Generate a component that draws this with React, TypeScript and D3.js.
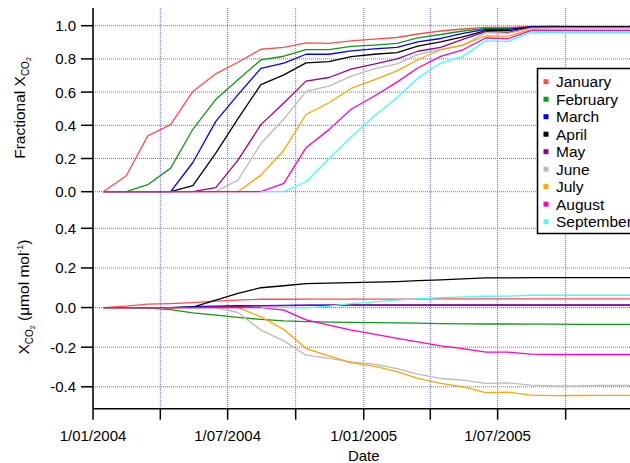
import React from "react";
import * as d3 from "d3";

const monthDates = [
  "2004-01-15", "2004-02-15", "2004-03-15", "2004-04-15", "2004-05-15", "2004-06-15",
  "2004-07-15", "2004-08-15", "2004-09-15", "2004-10-15", "2004-11-15", "2004-12-15",
  "2005-01-15", "2005-02-15", "2005-03-15", "2005-04-15", "2005-05-15", "2005-06-15",
  "2005-07-15", "2005-08-15", "2005-09-15", "2005-10-15", "2005-11-15", "2005-12-15",
  "2006-01-15",
];

const seriesNames = ["January", "February", "March", "April", "May", "June", "July", "August", "September"];
const seriesColors = ["#ff4d4d", "#119911", "#0000ff", "#000000", "#990088", "#bbbbbb", "#ffa500", "#ff00cc", "#44ffff"];

const N = null;
const fracJan = [0, 0.096, 0.336, 0.404, 0.604, 0.71, 0.78, 0.858, 0.87, 0.896, 0.894, 0.908, 0.919, 0.929, 0.95, 0.968, 0.98, 0.99, 0.99, 0.994, 0.994, 0.993, 0.993, 0.993, 0.993];
const fracFeb = [0, 0, 0.042, 0.142, 0.376, 0.556, 0.675, 0.794, 0.816, 0.856, 0.856, 0.876, 0.883, 0.893, 0.927, 0.947, 0.968, 0.984, 0.984, 0.992, 0.992, 0.99, 0.99, 0.99, 0.99];
const fracMar = [0, 0, 0, 0, 0.176, 0.424, 0.585, 0.743, 0.774, 0.828, 0.828, 0.848, 0.86, 0.87, 0.903, 0.923, 0.954, 0.978, 0.978, 0.994, 0.996, 0.995, 0.995, 0.995, 0.995];
const fracApr = [0, 0, 0, 0, 0.036, 0.232, 0.44, 0.645, 0.704, 0.776, 0.784, 0.814, 0.828, 0.838, 0.877, 0.903, 0.933, 0.97, 0.97, 0.992, 0.994, 0.994, 0.994, 0.994, 0.994];
const fracMay = [0, 0, 0, 0, 0, 0.024, 0.19, 0.404, 0.534, 0.666, 0.688, 0.738, 0.768, 0.8, 0.846, 0.87, 0.917, 0.964, 0.96, 0.988, 0.99, 0.99, 0.99, 0.99, 0.99];
const fracJun = [0, 0, 0, 0, 0, 0, 0.07, 0.29, 0.438, 0.604, 0.636, 0.696, 0.74, 0.77, 0.826, 0.857, 0.88, 0.958, 0.954, 0.984, 0.985, 0.985, 0.985, 0.985, 0.985];
const fracJul = [0, 0, 0, 0, 0, 0, 0, 0.1, 0.25, 0.465, 0.536, 0.622, 0.674, 0.728, 0.795, 0.855, 0.885, 0.938, 0.937, 0.977, 0.976, 0.975, 0.975, 0.975, 0.975];
const fracAug = [0, 0, 0, 0, 0, 0, 0, 0, 0.05, 0.265, 0.374, 0.497, 0.575, 0.66, 0.745, 0.815, 0.855, 0.926, 0.922, 0.97, 0.97, 0.97, 0.97, 0.97, 0.97];
const fracSep = [N, N, N, N, N, N, N, 0, 0, 0.06, 0.198, 0.33, 0.455, 0.567, 0.684, 0.775, 0.815, 0.909, 0.906, 0.96, 0.962, 0.96, 0.96, 0.96, 0.96];

const diffJan = [0, 0.007, 0.017, 0.02, 0.025, 0.032, 0.037, 0.042, 0.042, 0.043, 0.043, 0.043, 0.043, 0.043, 0.043, 0.044, 0.044, 0.044, 0.044, 0.044, 0.044, 0.044, 0.044, 0.044, 0.044];
const diffFeb = [0, 0, -0.003, -0.01, -0.027, -0.038, -0.05, -0.06, -0.067, -0.071, -0.074, -0.075, -0.076, -0.077, -0.079, -0.081, -0.082, -0.083, -0.083, -0.084, -0.084, -0.085, -0.085, -0.085, -0.085];
const diffMar = [0, 0, 0, 0, 0.004, 0.007, 0.009, 0.01, 0.011, 0.012, 0.012, 0.012, 0.012, 0.012, 0.012, 0.012, 0.012, 0.012, 0.012, 0.012, 0.012, 0.012, 0.012, 0.012, 0.012];
const diffApr = [0, 0, 0, 0, 0.002, 0.037, 0.072, 0.1, 0.11, 0.121, 0.123, 0.126, 0.128, 0.131, 0.136, 0.14, 0.145, 0.15, 0.15, 0.151, 0.151, 0.151, 0.151, 0.151, 0.151];
const diffMay = [0, 0, 0, 0, 0, 0.003, 0.006, 0.009, 0.01, 0.011, 0.012, 0.013, 0.013, 0.013, 0.013, 0.013, 0.013, 0.013, 0.013, 0.013, 0.013, 0.013, 0.013, 0.013, 0.013];
const diffJun = [0, 0, 0, 0, 0, 0, -0.025, -0.114, -0.168, -0.24, -0.257, -0.274, -0.286, -0.308, -0.336, -0.358, -0.366, -0.383, -0.38, -0.392, -0.395, -0.395, -0.393, -0.393, -0.393];
const diffJul = [0, 0, 0, 0, 0, 0, 0, -0.047, -0.111, -0.207, -0.244, -0.279, -0.296, -0.324, -0.358, -0.383, -0.4, -0.429, -0.427, -0.442, -0.445, -0.444, -0.443, -0.443, -0.443];
const diffAug = [0, 0, 0, 0, 0, 0, 0, 0, -0.013, -0.062, -0.089, -0.114, -0.134, -0.156, -0.173, -0.193, -0.207, -0.225, -0.225, -0.235, -0.237, -0.237, -0.237, -0.237, -0.237];
const diffSep = [N, N, N, N, N, N, N, 0, 0, -0.002, 0.007, 0.02, 0.029, 0.037, 0.044, 0.05, 0.054, 0.057, 0.058, 0.062, 0.062, 0.062, 0.062, 0.062, 0.062];

const fracSeries = [fracJan, fracFeb, fracMar, fracApr, fracMay, fracJun, fracJul, fracAug, fracSep];
const diffSeries = [diffJan, diffFeb, diffMar, diffApr, diffMay, diffJun, diffJul, diffAug, diffSep];

const topTicks = [0, 0.2, 0.4, 0.6, 0.8, 1.0];
const bottomTicks = [-0.4, -0.2, 0, 0.2, 0.4];

const W = 630;
const H = 463;
const FONT = "'Liberation Sans', Arial, Helvetica, sans-serif";

export default function App() {
  const parse = d3.timeParse("%Y-%m-%d");
  const dates = monthDates.map((d) => parse(d) as Date);
  const left = 93;
  const plotTop = 8;
  const axisY = 408.7;
  const rightEdge = 630;

  const x = d3
    .scaleTime()
    .domain([new Date(2004, 0, 1), new Date(2006, 0, 1)])
    .range([left, left + 731 * 0.7397]);
  const yTop = d3.scaleLinear().domain([0, 1]).range([191.7, 25.7]);
  const yBot = d3.scaleLinear().domain([-0.4, 0.4]).range([386.8, 228.3]);

  const xTicks = x.ticks(d3.timeMonth.every(3) as any).filter((d) => x(d) < rightEdge);
  const fmt = d3.timeFormat("%-d/%m/%Y");

  const mkLine = (ys: d3.ScaleLinear<number, number>) =>
    d3
      .line<number | null>()
      .defined((v) => v !== null)
      .x((_, i) => x(dates[i]))
      .y((v) => ys(v as number));

  const lineTop = mkLine(yTop);
  const lineBot = mkLine(yBot);

  const gridColor = "#4d4dff";

  return (
    <svg width={W} height={H} style={{ position: "absolute", left: 0, top: 0, background: "#fff" }} fontFamily={FONT}>
      <defs>
        <clipPath id="plotclip">
          <rect x={left} y={0} width={rightEdge - left} height={axisY} />
        </clipPath>
      </defs>
      {/* gridlines */}
      <g stroke={gridColor} strokeWidth={1} strokeDasharray="1,1" opacity={0.85}>
        {xTicks.map((d, i) => (
          <line key={"vx" + i} x1={x(d)} x2={x(d)} y1={plotTop} y2={axisY} />
        ))}
        {topTicks.map((t, i) => (
          <line key={"ht" + i} x1={left} x2={rightEdge} y1={yTop(t)} y2={yTop(t)} />
        ))}
        {bottomTicks.map((t, i) => (
          <line key={"hb" + i} x1={left} x2={rightEdge} y1={yBot(t)} y2={yBot(t)} />
        ))}
      </g>

      {/* lines */}
      <g clipPath="url(#plotclip)" fill="none" strokeWidth={1.3} strokeLinejoin="round">
        {fracSeries.map((s, i) => (
          <path key={"ft" + i} d={lineTop(s) || ""} stroke={seriesColors[i]} />
        ))}
        {diffSeries.map((s, i) => (
          <path key={"db" + i} d={lineBot(s) || ""} stroke={seriesColors[i]} />
        ))}
      </g>

      {/* axes */}
      <g stroke="#000" strokeWidth={1.5}>
        <line x1={left} x2={left} y1={plotTop} y2={axisY} />
        <line x1={left} x2={rightEdge} y1={axisY} y2={axisY} />
        {topTicks.map((t, i) => (
          <line key={"tt" + i} x1={left - 12} x2={left} y1={yTop(t)} y2={yTop(t)} />
        ))}
        {bottomTicks.map((t, i) => (
          <line key={"tb" + i} x1={left - 12} x2={left} y1={yBot(t)} y2={yBot(t)} />
        ))}
        {xTicks.map((d, i) => (
          <line key={"tx" + i} x1={x(d)} x2={x(d)} y1={axisY} y2={axisY + 11} />
        ))}
      </g>

      <g fontSize={15} fill="#000" textAnchor="end">
        {topTicks.map((t, i) => (
          <text key={"lt" + i} x={left - 17} y={yTop(t)} dy="0.36em">
            {t.toFixed(1)}
          </text>
        ))}
        {bottomTicks.map((t, i) => (
          <text key={"lb" + i} x={left - 17} y={yBot(t)} dy="0.36em">
            {t.toFixed(1)}
          </text>
        ))}
      </g>

      <g fontSize={15} fill="#000" textAnchor="middle">
        {xTicks
          .filter((d) => d.getMonth() % 6 === 0)
          .map((d, i) => (
            <text key={"lx" + i} x={x(d)} y={441}>
              {fmt(d)}
            </text>
          ))}
        <text x={x(new Date(2005, 0, 1))} y={461}>
          Date
        </text>
      </g>

      {/* axis titles */}
      <text transform="translate(25,108) rotate(-90)" textAnchor="middle" fontSize={15.5} fill="#000">
        Fractional X
        <tspan fontSize={10} dy={4}>
          CO
        </tspan>
        <tspan fontSize={7} dy={1.5}>
          2
        </tspan>
      </text>
      <text transform="translate(29,297) rotate(-90)" textAnchor="middle" fontSize={15.5} fill="#000">
        X
        <tspan fontSize={10} dy={4}>
          CO
        </tspan>
        <tspan fontSize={7} dy={1.5}>
          2
        </tspan>
        <tspan dy={-5.5}> (μmol mol</tspan>
        <tspan fontSize={9} dy={-6}>
          -1
        </tspan>
        <tspan dy={6}>)</tspan>
      </text>

      {/* legend */}
      <g>
        <rect x={537.5} y={68.5} width={110} height={165} fill="#fff" stroke="#000" strokeWidth={1.5} />
        {seriesNames.map((name, i) => (
          <g key={"lg" + i} transform={`translate(0, ${81.7 + i * 17.5})`}>
            <rect x={543.5} y={-2.5} width={5} height={5} fill={seriesColors[i]} />
            <text x={556} y={0} dy="0.36em" fontSize={15.5} fill="#000">
              {name}
            </text>
          </g>
        ))}
      </g>
    </svg>
  );
}
